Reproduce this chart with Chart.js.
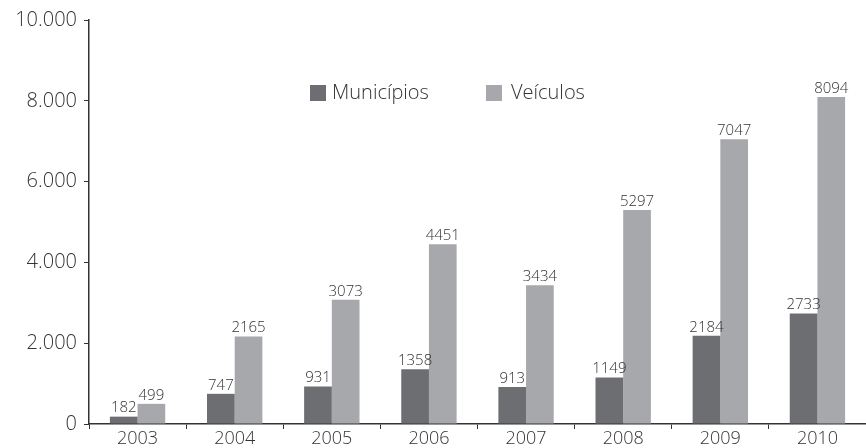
<!DOCTYPE html>
<html>
<head>
<meta charset="utf-8">
<script src="https://cdn.jsdelivr.net/npm/chart.js@4.4.0/dist/chart.umd.min.js"></script>
<style>
  html, body { margin: 0; padding: 0; background: #fff; }
  #wrap { width: 866px; height: 448px; }
</style>
</head>
<body>
<div id="wrap"><canvas id="grafico"></canvas></div>
<script>
// dados do grafico
const anos = ['2003', '2004', '2005', '2006', '2007', '2008', '2009', '2010'];
const municipios = [182, 747, 931, 1358, 913, 1149, 2184, 2733];
const veiculos = [499, 2165, 3073, 4451, 3434, 5297, 7047, 8094];

const corEscura = '#6d6e71';
const corClara = '#a7a8ab';
const fonte = "'Open Sans', Lato, sans-serif";

// rotulos em cima das barras
const rotulos = {
  id: 'rotulos',
  afterDatasetsDraw(chart) {
    const ctx = chart.ctx;
    ctx.save();
    ctx.font = '300 15px ' + fonte;
    ctx.fillStyle = '#333';
    ctx.textAlign = 'center';
    ctx.textBaseline = 'bottom';
    chart.data.datasets.forEach((ds, i) => {
      chart.getDatasetMeta(i).data.forEach((bar, j) => {
        ctx.fillText(ds.data[j], bar.x, bar.y - 1);
      });
    });
    ctx.restore();
  }
};

// legenda desenhada na area do grafico
const legenda = {
  id: 'legenda',
  afterDraw(chart) {
    const ctx = chart.ctx;
    const pos = [310, 486];
    ctx.save();
    ctx.font = '300 20px ' + fonte;
    ctx.textBaseline = 'middle';
    chart.data.datasets.forEach((ds, i) => {
      ctx.fillStyle = ds.backgroundColor;
      ctx.fillRect(pos[i], 85, 16, 16);
      ctx.fillStyle = '#333';
      ctx.fillText(ds.label, pos[i] + (i === 0 ? 22 : 25), 93);
    });
    ctx.restore();
  }
};

new Chart(document.getElementById('grafico'), {
  type: 'bar',
  data: {
    labels: anos,
    datasets: [
      { label: 'Municípios', data: municipios, backgroundColor: corEscura },
      { label: 'Veículos', data: veiculos, backgroundColor: corClara }
    ]
  },
  options: {
    responsive: true,
    maintainAspectRatio: false,
    animation: false,
    datasets: { bar: { categoryPercentage: 0.57, barPercentage: 1 } },
    layout: { padding: { top: 20, right: 0, left: 0, bottom: 0 } },
    plugins: { legend: { display: false }, tooltip: { enabled: false } },
    scales: {
      x: {
        afterFit(scale) { scale.height = 24; },
        grid: { drawOnChartArea: false, tickLength: 5, tickColor: '#333', offset: true },
        border: { color: '#333', width: 1.5 },
        ticks: { color: '#333', font: { family: fonte, size: 18, weight: '300' }, padding: -1 }
      },
      y: {
        min: 0,
        max: 10000,
        afterFit(scale) { scale.width = 89; },
        grid: { drawOnChartArea: false, tickLength: 5, tickColor: '#333' },
        border: { color: '#333', width: 1.5 },
        ticks: {
          stepSize: 2000,
          color: '#333',
          padding: 7,
          font: { family: fonte, size: 20, weight: '300' },
          callback: v => v.toString().replace(/\B(?=(\d{3})+(?!\d))/g, '.')
        }
      }
    }
  },
  plugins: [rotulos, legenda]
});
</script>
</body>
</html>
